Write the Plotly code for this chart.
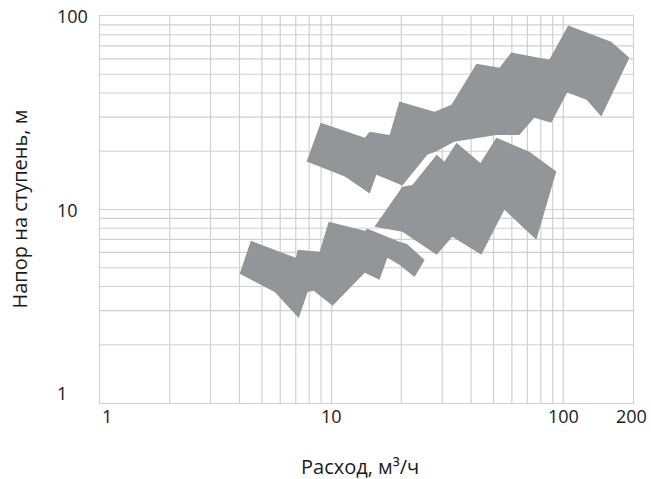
import math
import plotly.graph_objects as go

# Flow (m3/h) and head per stage (m) outlines of the pump ranges
upper_x = [7.80, 8.97, 13.9, 14.6, 17.8, 19.6, 27.8, 32.9, 42.2, 53.0, 59.7, 87.0, 105, 161, 193,
           146, 126, 104, 88.8, 75.0, 64.6, 51.4, 33.8, 28.4, 25.9, 20.2, 15.6, 14.6, 11.4]
upper_y = [17.7, 28.1, 23.5, 25.2, 24.3, 36.1, 32.0, 34.8, 56.7, 54.1, 64.7, 59.5, 89.2, 73.7, 60.9,
           30.2, 36.9, 40.2, 28.1, 29.8, 24.3, 24.3, 22.4, 20.0, 19.2, 13.3, 15.1, 12.1, 14.8]

low_left_x = [4.48, 7.00, 7.14, 8.88, 9.71, 13.9, 14.3, 19.6, 21.1, 25.2, 22.8, 19.6, 17.4, 16.1,
              13.9, 10.1, 8.36, 7.88, 7.21, 5.68, 4.01]
low_left_y = [6.89, 5.63, 6.19, 6.04, 8.64, 7.76, 7.95, 6.81, 6.65, 5.49, 4.48, 5.18, 5.63, 4.33,
              4.71, 3.18, 3.80, 3.75, 2.75, 3.75, 4.65]

low_right_x = [15.3, 20.2, 22.3, 28.4, 30.7, 34.6, 43.9, 51.4, 71.4, 93.3, 76.5, 55.7, 44.3, 33.2,
               28.4, 20.2]
low_right_y = [8.14, 13.1, 13.4, 19.2, 17.7, 22.1, 17.4, 23.5, 19.9, 15.7, 6.97, 9.96, 5.83, 7.22,
               5.83, 7.67]

x_ticks = [1, 10, 100, 200]
y_ticks = [1, 10, 100]
x_grid = [2, 3, 4, 5, 6, 7, 8, 9, 10, 20, 30, 40, 50, 60, 70, 80, 90, 100]
y_grid = [2, 3, 4, 5, 6, 7, 8, 9, 10, 20, 30, 40, 50, 60, 70, 80, 90]

FILL = "#939598"
GRID = "#d0d0d0"
TEXT = "#1a1a1a"
FONT = "Open Sans, DejaVu Sans, sans-serif"

fig = go.Figure()
for xs, ys in [(upper_x, upper_y), (low_left_x, low_left_y), (low_right_x, low_right_y)]:
    fig.add_trace(go.Scatter(x=xs + xs[:1], y=ys + ys[:1], mode="lines", fill="toself",
                             fillcolor=FILL, line=dict(width=0, color=FILL),
                             hoverinfo="skip", showlegend=False))

fig.update_layout(
    width=651, height=479,
    margin=dict(l=100, r=18, t=16, b=76, autoexpand=False),
    paper_bgcolor="white", plot_bgcolor="white",
    font=dict(family=FONT, size=18, color=TEXT),
    showlegend=False,
)
fig.update_xaxes(
    type="log", range=[0, math.log10(200)], automargin=False,
    showticklabels=False, showgrid=False, ticks="",
    showline=True, linecolor=GRID, linewidth=1.2, mirror=True, zeroline=False,
)
fig.update_yaxes(
    type="log", range=[0, 2], automargin=False,
    showticklabels=False, showgrid=False, ticks="",
    showline=True, linecolor=GRID, linewidth=1.2, mirror=True, zeroline=False,
)

shapes = []
for g in x_grid:
    shapes.append(dict(type="line", xref="x", yref="paper", x0=g, x1=g, y0=0, y1=1,
                       line=dict(color=GRID, width=1.2), layer="below"))
for g in y_grid:
    shapes.append(dict(type="line", xref="paper", yref="y", x0=0, x1=1, y0=g, y1=g,
                       line=dict(color=GRID, width=1.2), layer="below"))

annotations = []
for v in x_ticks:
    annotations.append(dict(text=str(v), xref="x", yref="paper", x=math.log10(v), y=0,
                            xanchor="center", yanchor="middle", yshift=-13,
                            xshift=7 if v == 1 else (-2 if v == 200 else 0), showarrow=False,
                            font=dict(size=18, family=FONT, color=TEXT)))
for v in y_ticks:
    annotations.append(dict(text=str(v), xref="paper", yref="y", x=-45 / 533, y=math.log10(v),
                            xanchor="left", yanchor="middle", yshift=10 if v == 1 else 0,
                            showarrow=False, font=dict(size=18, family=FONT, color=TEXT)))
annotations.append(dict(text="Расход, м³/ч", xref="paper", yref="paper",
                        x=260 / 533, y=-64 / 387, xanchor="center", yanchor="middle",
                        showarrow=False, font=dict(size=20, family=FONT, color=TEXT)))
annotations.append(dict(text="Напор на ступень, м", xref="paper", yref="paper",
                        x=-81 / 533, y=0.5, xanchor="center", yanchor="middle", textangle=-90,
                        showarrow=False, font=dict(size=20, family=FONT, color=TEXT)))

fig.update_layout(shapes=shapes, annotations=annotations)

fig.write_html("out.html", config={"displayModeBar": False},
               post_script="document.body.style.margin='0';document.body.style.overflow='hidden';")
